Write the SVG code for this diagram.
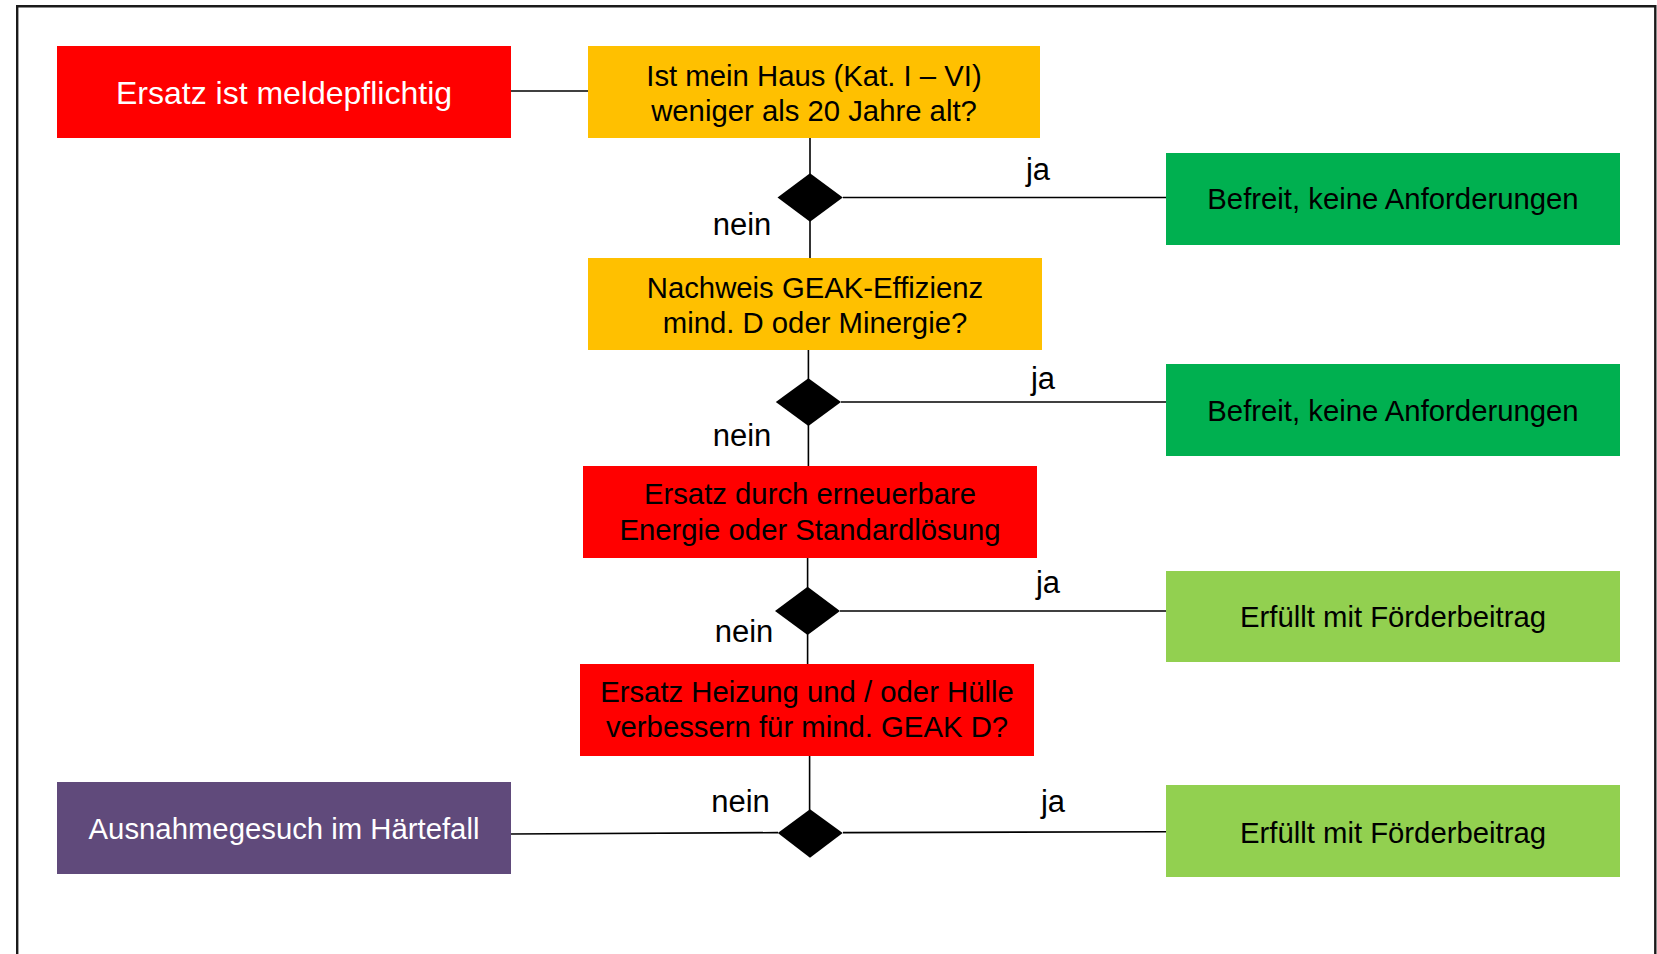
<svg xmlns="http://www.w3.org/2000/svg" width="1657" height="954" viewBox="0 0 1657 954">
<style>
.t{font-family:"Liberation Sans",Arial,sans-serif;font-size:29.3px;text-anchor:middle;fill:#000}
.w{fill:#fff}
.lbl{font-family:"Liberation Sans",Arial,sans-serif;font-size:31px;text-anchor:middle;fill:#000}
.ln{stroke:#000;stroke-width:1.6;fill:none}
.dia{fill:#000}
</style>
<rect width="1657" height="954" fill="#fff"/>
<g id="frame">
<path d="M17.2,954 V6.3 H1655.3 V954" fill="none" stroke="#1a1a1a" stroke-width="2.4"/>
</g>
<g id="connectors">
<line class="ln" x1="511" y1="91" x2="588" y2="91"/>
<line class="ln" x1="810" y1="138" x2="810" y2="258"/>
<line class="ln" x1="843" y1="197.5" x2="1166" y2="197.5"/>
<line class="ln" x1="808.4" y1="350" x2="808.4" y2="466"/>
<line class="ln" x1="841" y1="402" x2="1166" y2="402"/>
<line class="ln" x1="807.6" y1="558" x2="807.6" y2="664"/>
<line class="ln" x1="840" y1="611" x2="1166" y2="611"/>
<line class="ln" x1="809.6" y1="756" x2="809.6" y2="833"/>
<line class="ln" x1="510" y1="834" x2="778" y2="832.6"/>
<line class="ln" x1="843" y1="832.6" x2="1166" y2="831.8"/>
<polygon class="dia" points="810,173.3 842.8,197.5 810,221.7 777.5,197.5"/>
<polygon class="dia" points="808.4,378.3 841,402 808.4,426 775.8,402"/>
<polygon class="dia" points="807.6,586.7 840,611 807.6,635 775,611"/>
<polygon class="dia" points="810,809.3 842.7,833 810,857.7 777.8,833"/>
<text class="lbl" x="1038" y="180">ja</text>
<text class="lbl" x="742" y="235">nein</text>
<text class="lbl" x="1043" y="389">ja</text>
<text class="lbl" x="742" y="445.5">nein</text>
<text class="lbl" x="1048" y="593">ja</text>
<text class="lbl" x="744" y="641.5">nein</text>
<text class="lbl" x="1053" y="811.5">ja</text>
<text class="lbl" x="740.5" y="811.5">nein</text>
</g>
<g id="n_meldepflichtig">
<rect x="57" y="46" width="454" height="92" fill="#FF0000"/>
<text class="t w" x="284" y="104.3" style="font-size:32px">Ersatz ist meldepflichtig</text>
</g>
<g id="n_haus">
<rect x="588" y="46" width="452" height="92" fill="#FFC000"/>
<text class="t" x="814" y="86">Ist mein Haus (Kat. I – VI)</text>
<text class="t" x="814" y="120.7">weniger als 20 Jahre alt?</text>
</g>
<g id="n_befreit1">
<rect x="1166" y="153" width="454" height="92" fill="#00B050"/>
<text class="t" x="1393" y="209">Befreit, keine Anforderungen</text>
</g>
<g id="n_geak">
<rect x="588" y="258" width="454" height="92" fill="#FFC000"/>
<text class="t" x="815" y="297.5">Nachweis GEAK-Effizienz</text>
<text class="t" x="815" y="332.5">mind. D oder Minergie?</text>
</g>
<g id="n_befreit2">
<rect x="1166" y="364" width="454" height="92" fill="#00B050"/>
<text class="t" x="1393" y="420.5">Befreit, keine Anforderungen</text>
</g>
<g id="n_erneuerbar">
<rect x="583" y="466" width="454" height="92" fill="#FF0000"/>
<text class="t" x="810" y="504">Ersatz durch erneuerbare</text>
<text class="t" x="810" y="540">Energie oder Standardlösung</text>
</g>
<g id="n_erfuellt1">
<rect x="1166" y="571" width="454" height="91" fill="#92D050"/>
<text class="t" x="1393" y="627">Erfüllt mit Förderbeitrag</text>
</g>
<g id="n_heizung">
<rect x="580" y="664" width="454" height="92" fill="#FF0000"/>
<text class="t" x="807" y="702.3">Ersatz Heizung und / oder Hülle</text>
<text class="t" x="807" y="737.3">verbessern für mind. GEAK D?</text>
</g>
<g id="n_haertefall">
<rect x="57" y="782" width="454" height="92" fill="#604A7B"/>
<text class="t w" x="284" y="839.3">Ausnahmegesuch im Härtefall</text>
</g>
<g id="n_erfuellt2">
<rect x="1166" y="785" width="454" height="92" fill="#92D050"/>
<text class="t" x="1393" y="843.3">Erfüllt mit Förderbeitrag</text>
</g>
</svg>
